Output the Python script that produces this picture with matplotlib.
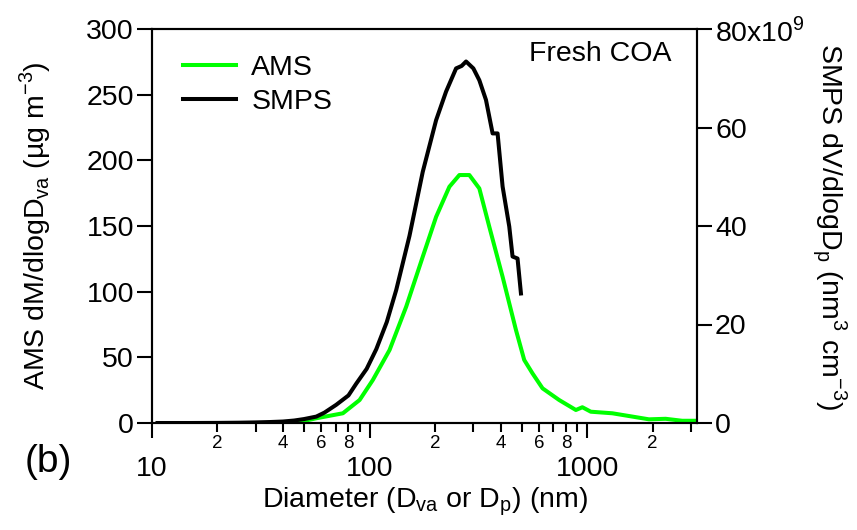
import matplotlib
matplotlib.use("Agg")
import matplotlib.pyplot as plt
from matplotlib.ticker import FixedLocator, FixedFormatter
import numpy as np

plt.rcParams['font.family'] = ['Liberation Sans', 'DejaVu Sans']
plt.rcParams['mathtext.fontset'] = 'custom'
plt.rcParams['mathtext.rm'] = 'Liberation Sans'

# ---- data ----
ams_d = [45.3, 56.9, 75.4, 90.0, 103.5, 123.6, 147.4, 175.6, 202.3, 232.8, 258.7,
         287.6, 319.6, 355.2, 408.9, 471, 514, 561, 624, 744, 888, 951, 1040,
         1306, 1559, 1924, 2296, 2735, 3152]
ams_v = [0, 3.6, 7.4, 17.5, 32.7, 55.6, 88.6, 126.6, 157.0, 179.9, 188.8,
         188.8, 178.6, 149.4, 111.3, 70.8, 48.0, 37.8, 26.4, 17.5, 9.9, 12.0, 8.6,
         7.4, 5.3, 2.8, 3.2, 1.7, 1.7]

smps_d = [10.6, 15, 20, 25, 30, 35, 40, 45, 50, 56.9, 62, 70.3, 80, 86.9, 97,
          107.4, 120, 132.6, 152.6, 175.6, 202.3, 224.8, 249.9, 265, 277.7,
          300, 319.6, 342.9, 367.8, 387.7, 408.9, 438.7, 454.3, 478.9, 496.5]
smps_v = [0, 0, 0.02, 0.06, 0.12, 0.2, 0.3, 0.5, 0.8, 1.3, 2.1, 3.7, 5.6, 8.0, 11.0,
          15.0, 20.5, 27.0, 38.0, 51.0, 61.5, 67.3, 72.0, 72.5, 73.4,
          72.0, 69.6, 65.6, 58.8, 58.8, 48.0, 39.9, 33.8, 33.4, 26.3]  # x10^9

left_ticks = [0, 50, 100, 150, 200, 250, 300]
right_ticks = [0, 20, 40, 60, 80]
right_labels = ['0', '20', '40', '60', r'80x10$^{\mathregular{9}}$']
x_major = [10, 100, 1000]
x_major_labels = ['10', '100', '1000']

fig = plt.figure(figsize=(8.57, 5.30), dpi=100)
ax = fig.add_axes([152/857, 1-423/530, 545/857, 394/530])
ax2 = ax.twinx()

green = '#00ff00'
l1, = ax.plot(ams_d, ams_v, color=green, lw=2.9)
l2, = ax2.plot(smps_d, np.array(smps_v) * 1e9, color='black', lw=2.9)

ax.set_xscale('log')
ax.set_xlim(10, 3200)
ax.set_ylim(0, 300)
ax2.set_ylim(0, 80e9)

fs = 20.5
ax.set_yticks(left_ticks)
ax.set_yticklabels([str(t) for t in left_ticks], fontsize=fs)
ax2.set_yticks([t * 1e9 for t in right_ticks])
ax2.set_yticklabels(right_labels, fontsize=fs)

minors = [m * 10**e for e in (1, 2, 3) for m in range(2, 10) if m * 10**e <= 3200]
minor_labels = []
for v in minors:
    mant = int(round(v / 10**int(np.floor(np.log10(v)))))
    minor_labels.append(str(mant) if mant in (2, 4, 6, 8) else '')
ax.xaxis.set_major_locator(FixedLocator(x_major))
ax.xaxis.set_major_formatter(FixedFormatter(x_major_labels))
ax.xaxis.set_minor_locator(FixedLocator(minors))
ax.xaxis.set_minor_formatter(FixedFormatter(minor_labels))

ax.tick_params(axis='x', which='major', direction='out', length=11, width=1.5,
               labelsize=fs, pad=13)
ax.tick_params(axis='x', which='minor', direction='out', length=6.5, width=1.5,
               labelsize=13.5, pad=2)
ax.tick_params(axis='y', which='major', direction='out', length=11, width=1.5,
               labelsize=fs, pad=2)
ax2.tick_params(axis='y', which='major', direction='out', length=11, width=1.5,
                labelsize=fs, pad=2)

for a in (ax, ax2):
    for s in a.spines.values():
        s.set_linewidth(1.5)

ax.set_ylabel(r'AMS dM/dlogD$_{\mathregular{va}}$ (µg m$^{\mathregular{-3}}$)', fontsize=fs, labelpad=24)
ax2.set_ylabel(r'SMPS dV/dlogD$_{\mathregular{p}}$ (nm$^{\mathregular{3}}$ cm$^{\mathregular{-3}}$)',
               fontsize=fs, rotation=270, labelpad=31)
ax.set_xlabel(r'Diameter (D$_{\mathregular{va}}$ or D$_{\mathregular{p}}$) (nm)', fontsize=fs, labelpad=2)

ax2.legend([l1, l2], ['AMS', 'SMPS'], loc='upper left', frameon=False, fontsize=fs,
           handlelength=1.85, handletextpad=0.55, labelspacing=0.3,
           bbox_to_anchor=(0.01, 1.0))
ax.text(0.954, 0.937, 'Fresh COA', transform=ax.transAxes, ha='right', va='center', fontsize=fs)
fig.text(48/857, 1-462/530, '(b)', fontsize=28, ha='center', va='center')

fig.savefig('out.png', dpi=100)
